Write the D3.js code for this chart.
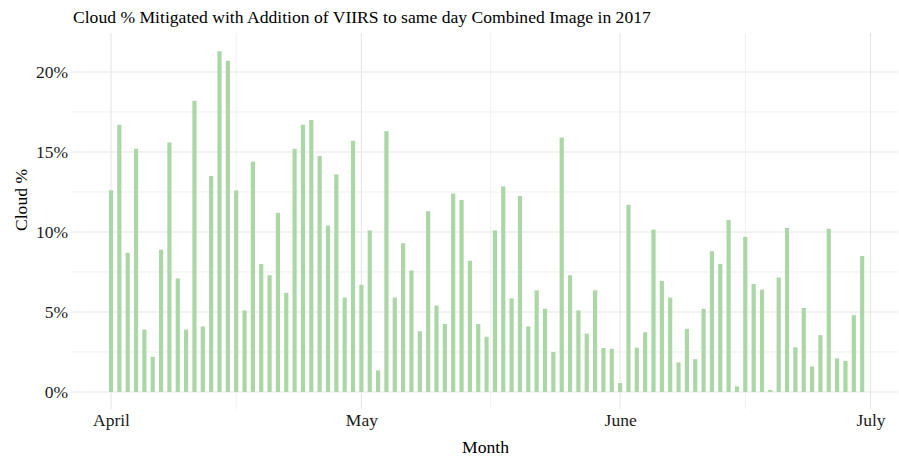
<!DOCTYPE html>
<html>
<head>
<meta charset="utf-8">
<script src="https://cdn.jsdelivr.net/npm/d3@7"></script>
<style>
  html, body { margin: 0; padding: 0; background: #ffffff; }
  svg { display: block; font-family: "Liberation Serif", "Times New Roman", serif; }
</style>
</head>
<body>
<svg id="chart" width="899" height="460"></svg>
<script>
// Daily cloud cover (%) mitigated by adding VIIRS, 1 April – 30 June 2017
const aprilValues = [12.6, 16.7, 8.7, 15.2, 3.9, 2.2, 8.9, 15.6, 7.1, 3.9,
  18.2, 4.1, 13.5, 21.3, 20.7, 12.6, 5.1, 14.4, 8.0, 7.3,
  11.2, 6.2, 15.2, 16.7, 17.0, 14.75, 10.4, 13.6, 5.9, 15.7];
const mayValues = [6.7, 10.1, 1.35, 16.3, 5.9, 9.3, 7.6, 3.8, 11.3, 5.4,
  4.25, 12.4, 12.0, 8.2, 4.25, 3.45, 10.1, 12.85, 5.85, 12.25,
  4.1, 6.35, 5.2, 2.5, 15.9, 7.3, 5.1, 3.65, 6.35, 2.75, 2.7];
const juneValues = [0.56, 11.7, 2.77, 3.73, 10.15, 6.95, 5.9, 1.85, 3.95, 2.05,
  5.2, 8.8, 8.0, 10.75, 0.35, 9.7, 6.75, 6.4, 0.13, 7.15,
  10.25, 2.8, 5.25, 1.6, 3.55, 10.2, 2.1, 1.95, 4.8, 8.5];

const monthLabels = ["April", "May", "June", "July"];
const yTickValues = [0, 5, 10, 15, 20];
const yMinorValues = [2.5, 7.5, 12.5, 17.5];

const titleText = "Cloud % Mitigated with Addition of VIIRS to same day Combined Image in 2017";
const xTitle = "Month";
const yTitle = "Cloud %";

// One bar per day
const start = new Date(Date.UTC(2017, 3, 1));
const end = new Date(Date.UTC(2017, 6, 1));
const days = d3.utcDay.range(start, end);
const values = aprilValues.concat(mayValues, juneValues);
const data = days.map((d, i) => ({ date: d, value: values[i] }));

const monthTicks = d3.utcMonth.range(start, d3.utcDay.offset(end, 1));
const minorTicks = d3.pairs(monthTicks).map(([a, b]) => new Date((+a + +b) / 2));

// Panel geometry
const panel = { left: 71, right: 898, top: 33, bottom: 409 };

const x = d3.scaleUtc().domain([start, end]).range([111, 870.5]);
const y = d3.scaleLinear().domain([0, 20]).range([392, 72]);

const svg = d3.select("#chart");
const grid = "#e6e6e6";

// Minor grid
svg.append("g").selectAll("line.ymin").data(yMinorValues).join("line")
  .attr("x1", panel.left).attr("x2", panel.right)
  .attr("y1", d => y(d)).attr("y2", d => y(d))
  .attr("stroke", grid).attr("stroke-width", 0.6);
svg.append("g").selectAll("line.xmin").data(minorTicks).join("line")
  .attr("x1", d => x(d)).attr("x2", d => x(d))
  .attr("y1", panel.top).attr("y2", panel.bottom)
  .attr("stroke", grid).attr("stroke-width", 0.6);

// Major grid
svg.append("g").selectAll("line.ymaj").data(yTickValues).join("line")
  .attr("x1", panel.left).attr("x2", panel.right)
  .attr("y1", d => y(d)).attr("y2", d => y(d))
  .attr("stroke", grid).attr("stroke-width", 1.1);
svg.append("g").selectAll("line.xmaj").data(monthTicks).join("line")
  .attr("x1", d => x(d)).attr("x2", d => x(d))
  .attr("y1", panel.top).attr("y2", panel.bottom)
  .attr("stroke", grid).attr("stroke-width", 1.1);

// Bars
const dayPx = x(d3.utcDay.offset(start, 1)) - x(start);
const barW = dayPx * 0.5;
svg.append("g").selectAll("rect").data(data).join("rect")
  .attr("x", d => x(d.date) - barW / 2)
  .attr("width", barW)
  .attr("y", d => y(d.value))
  .attr("height", d => y(0) - y(d.value))
  .attr("fill", "#abd6a5");

// Axis labels
const xAxis = d3.axisBottom(x).tickValues(monthTicks)
  .tickFormat((d, i) => monthLabels[i]).tickSize(0).tickPadding(0);
const gx = svg.append("g").attr("transform", `translate(0, ${panel.bottom + 4})`).call(xAxis);
gx.select(".domain").remove();
gx.selectAll("text").attr("font-size", 17.5).attr("fill", "#1a1a1a")
  .attr("font-family", "Liberation Serif").attr("dy", "0.75em");

const yAxis = d3.axisLeft(y).tickValues(yTickValues)
  .tickFormat(d => d + "%").tickSize(0).tickPadding(0);
const gy = svg.append("g").attr("transform", `translate(${panel.left - 3}, 0)`).call(yAxis);
gy.select(".domain").remove();
gy.selectAll("text").attr("font-size", 17.5).attr("fill", "#1a1a1a")
  .attr("font-family", "Liberation Serif");

// Titles
svg.append("text").attr("x", 73).attr("y", 23)
  .attr("font-size", 17.6).attr("fill", "#000").text(titleText);
svg.append("text").attr("x", (panel.left + panel.right) / 2 + 1).attr("y", 453)
  .attr("text-anchor", "middle").attr("font-size", 17.6).attr("fill", "#000").text(xTitle);
svg.append("text")
  .attr("transform", `translate(27, 200) rotate(-90)`)
  .attr("text-anchor", "middle").attr("font-size", 17.6).attr("fill", "#000").text(yTitle);
</script>
</body>
</html>
